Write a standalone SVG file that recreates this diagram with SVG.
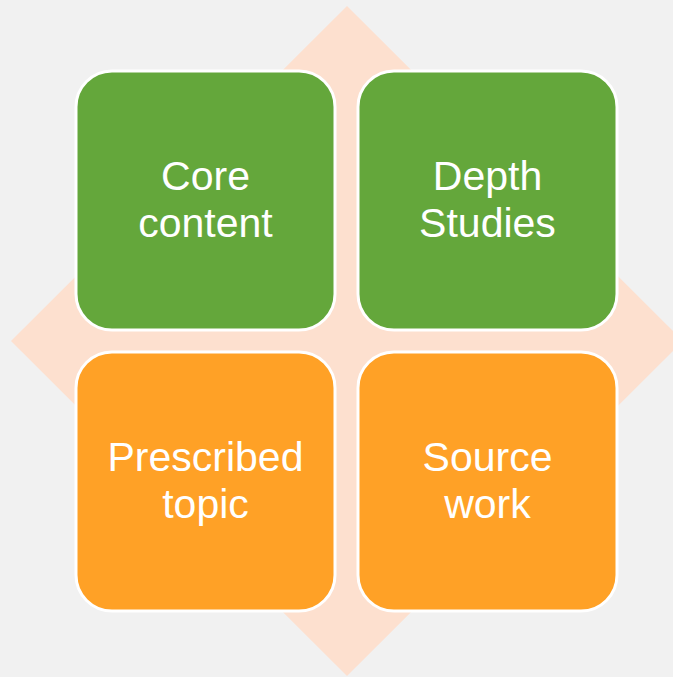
<svg xmlns="http://www.w3.org/2000/svg" width="673" height="677" viewBox="0 0 673 677">
<style>
.box{stroke:#ffffff;stroke-width:3}
.g{fill:#64a73b}
.o{fill:#ffa126}
.t{fill:#ffffff;font-family:"Liberation Sans",Arial,sans-serif;font-size:41px;text-anchor:middle}
</style>
<rect x="0" y="0" width="673" height="677" fill="#f1f1f1"/>
<polygon id="diamond" points="347,6 683,341 347,676 11,341" fill="#fde0cf"/>
<g id="core-content">
<rect class="box g" x="76" y="71" width="259" height="259" rx="36"/>
<text class="t" x="205.5" y="190">Core</text>
<text class="t" x="205.5" y="237">content</text>
</g>
<g id="depth-studies">
<rect class="box g" x="358" y="71" width="259" height="259" rx="36"/>
<text class="t" x="487.5" y="190">Depth</text>
<text class="t" x="487.5" y="237">Studies</text>
</g>
<g id="prescribed-topic">
<rect class="box o" x="76" y="352" width="259" height="259" rx="36"/>
<text class="t" x="205.5" y="471">Prescribed</text>
<text class="t" x="205.5" y="518">topic</text>
</g>
<g id="source-work">
<rect class="box o" x="358" y="352" width="259" height="259" rx="36"/>
<text class="t" x="487.5" y="471">Source</text>
<text class="t" x="487.5" y="518">work</text>
</g>
</svg>
